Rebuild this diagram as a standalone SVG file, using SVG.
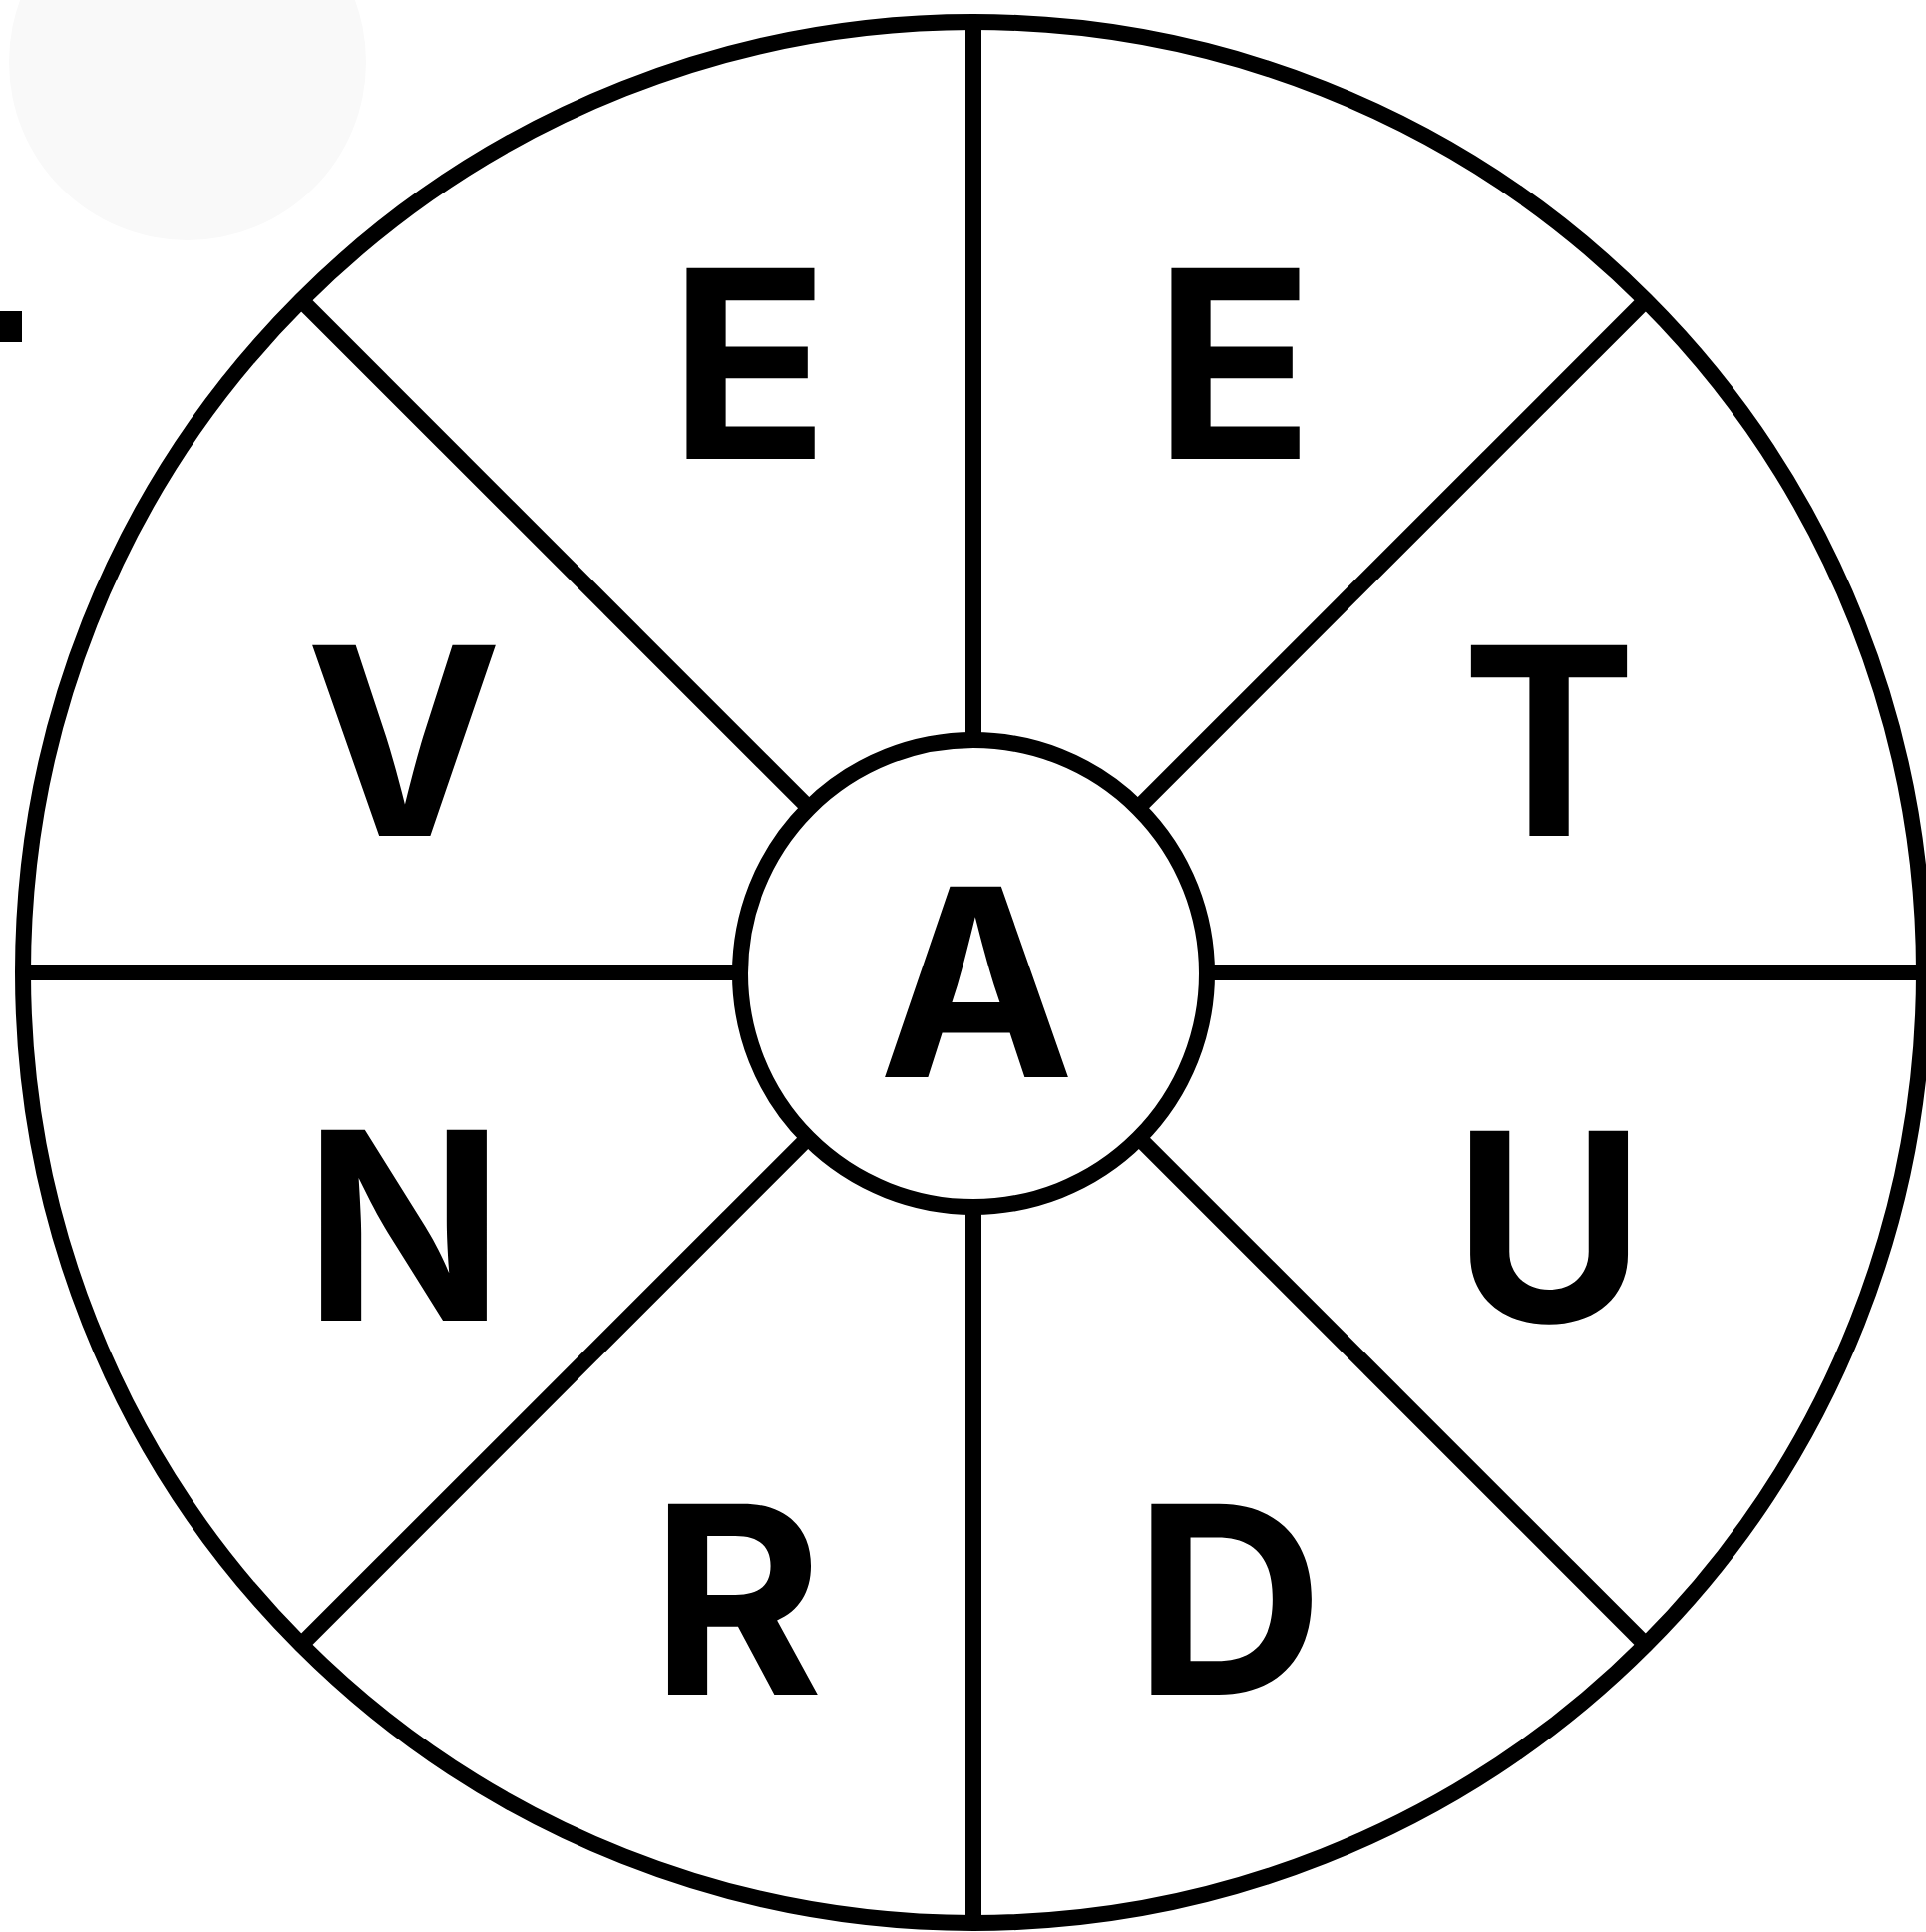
<svg xmlns="http://www.w3.org/2000/svg" width="1931" height="1937" viewBox="0 0 1931 1937">
<style>
.ln{stroke:#000;stroke-width:16;fill:none}
.hub{stroke:#000;stroke-width:16;fill:#fff}
.lt{font-family:Inter,"Open Sans","Liberation Sans",sans-serif;font-weight:700;font-size:263px;fill:#000;text-anchor:middle}
</style>
<rect width="1931" height="1937" fill="#fff"/>
<circle cx="188" cy="62" r="179" fill="#f9f9f9"/>
<rect x="0" y="312" width="22" height="31" fill="#000"/>
<g id="wheel">
<circle class="ln" cx="976" cy="975" r="953"/>
</g>
<g id="connectors">
<line class="ln" x1="976" y1="22" x2="976" y2="1928"/>
<line class="ln" x1="23" y1="975" x2="1929" y2="975"/>
<line class="ln" x1="302" y1="301" x2="1650" y2="1649"/>
<line class="ln" x1="1650" y1="301" x2="302" y2="1649"/>
</g>
<g id="center">
<circle class="hub" cx="976" cy="976" r="234"/>
<text class="lt" x="979" y="1080">A</text>
</g>
<g id="seg-e1"><text class="lt" x="751" y="460">E</text></g>
<g id="seg-e2"><text class="lt" x="1237" y="460">E</text></g>
<g id="seg-t"><text class="lt" x="1553" y="838">T</text></g>
<g id="seg-u"><text class="lt" x="1553" y="1325">U</text></g>
<g id="seg-d"><text class="lt" x="1232" y="1699">D</text></g>
<g id="seg-r"><text class="lt" x="739" y="1699">R</text></g>
<g id="seg-n"><text class="lt" x="405" y="1324">N</text></g>
<g id="seg-v"><text class="lt" x="405" y="838">V</text></g>
</svg>
